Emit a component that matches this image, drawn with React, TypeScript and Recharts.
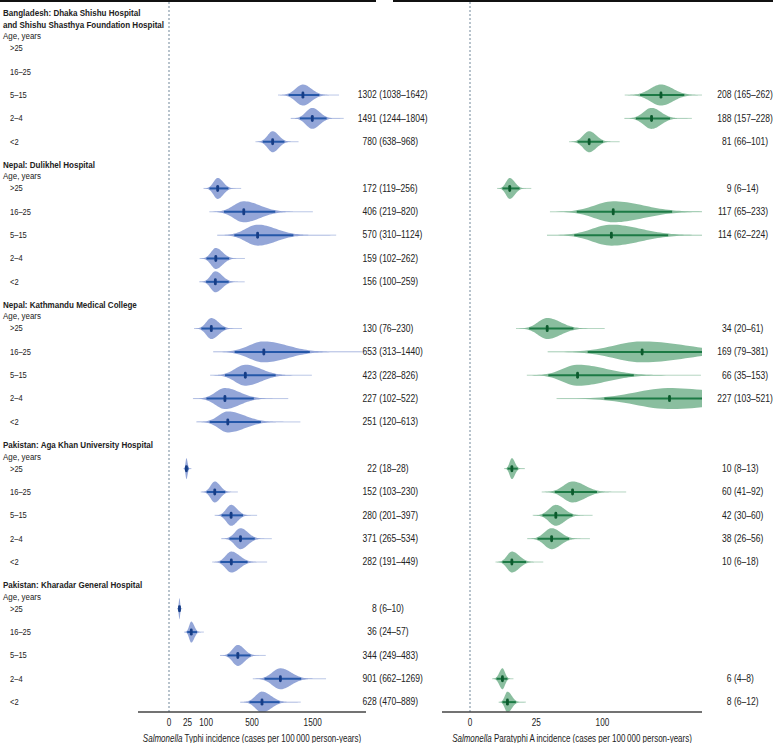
import React from 'react';
import { ComposedChart, Bar, XAxis, YAxis, ReferenceLine } from 'recharts';

// ---------- data ----------
const siteNames: string[][] = [
  ['Bangladesh: Dhaka Shishu Hospital', 'and Shishu Shasthya Foundation Hospital'],
  ['Nepal: Dulikhel Hospital'],
  ['Nepal: Kathmandu Medical College'],
  ['Pakistan: Aga Khan University Hospital'],
  ['Pakistan: Kharadar General Hospital'],
];
const ageGroups = ['>25', '16–25', '5–15', '2–4', '<2'];

const typhiMedian = [null, null, 1302, 1491, 780, 172, 406, 570, 159, 156, 130, 653, 423, 227, 251, 22, 152, 280, 371, 282, 8, 36, 344, 901, 628];
const typhiLower = [null, null, 1038, 1244, 638, 119, 219, 310, 102, 100, 76, 313, 228, 102, 120, 18, 103, 201, 265, 191, 6, 24, 249, 662, 470];
const typhiUpper = [null, null, 1642, 1804, 968, 256, 820, 1124, 262, 259, 230, 1440, 826, 522, 613, 28, 230, 397, 534, 449, 10, 57, 483, 1269, 889];

const paraMedian = [null, null, 208, 188, 81, 9, 117, 114, null, null, 34, 169, 66, 227, null, 10, 60, 42, 38, 10, null, null, null, 6, 8];
const paraLower = [null, null, 165, 157, 66, 6, 65, 62, null, null, 20, 79, 35, 103, null, 8, 41, 30, 26, 6, null, null, null, 4, 6];
const paraUpper = [null, null, 262, 228, 101, 14, 233, 224, null, null, 61, 381, 153, 521, null, 13, 92, 60, 56, 18, null, null, null, 8, 12];

const typhiTicks = [0, 25, 100, 500, 1500];
const paraTicks = [0, 25, 100];

// ---------- helpers ----------
const FONT = "'Liberation Sans', Arial, sans-serif";
const SX = 0.82; // horizontal condensing of the text face
const Y_DOMAIN: [number, number] = [-2.056, 28.437];
const key = (v: number) => v.toFixed(3);

type Row = { pos: number; median: number; lo: number; hi: number };

function buildRows(med: (number | null)[], lo: (number | null)[], hi: (number | null)[]): Row[] {
  const rows: Row[] = [];
  med.forEach((m, i) => {
    if (m == null) return;
    const site = Math.floor(i / 5);
    const age = i % 5;
    rows.push({ pos: site * 6 + age, median: m, lo: lo[i] as number, hi: hi[i] as number });
  });
  return rows;
}

const typhiRows = buildRows(typhiMedian, typhiLower, typhiUpper);
const paraRows = buildRows(paraMedian, paraLower, paraUpper);

type LeftLabel = { text: string; kind: 'header' | 'age' | 'group' };
const leftLabels = new Map<string, LeftLabel>();
const leftTickVals: number[] = [];
siteNames.forEach((lines, s) => {
  const base = s * 6;
  lines.forEach((ln, j) => {
    const p = base - 1.0 - 0.5 * (lines.length - 1 - j);
    leftTickVals.push(p);
    leftLabels.set(key(p), { text: ln, kind: 'header' });
  });
  const ap = base - 0.52;
  leftTickVals.push(ap);
  leftLabels.set(key(ap), { text: 'Age, years', kind: 'age' });
  ageGroups.forEach((g, a) => {
    leftTickVals.push(base + a);
    leftLabels.set(key(base + a), { text: g, kind: 'group' });
  });
});

const T = ({ x, y, size = 10, weight = 400, anchor = 'start', dy = '0.35em', sx = SX, children }: any) => (
  <text
    transform={`translate(${x},${y}) scale(${sx},1)`}
    x={0}
    y={0}
    dy={dy}
    textAnchor={anchor}
    fontFamily={FONT}
    fontSize={size}
    fontWeight={weight}
    fill="#222"
  >
    {children}
  </text>
);

const LeftTick = (props: any) => {
  const { y, payload } = props;
  const lab = leftLabels.get(key(payload.value));
  if (!lab) return null;
  if (lab.kind === 'header') return <T x={3} y={y} size={9.8} weight={700}>{lab.text}</T>;
  if (lab.kind === 'age') return <T x={3} y={y} size={9.7}>{lab.text}</T>;
  return <T x={10} y={y} size={9.2}>{lab.text}</T>;
};

const makeValueTick = (rows: Row[], medX: number) => (props: any) => {
  const { y, payload } = props;
  const r = rows.find((d) => key(d.pos) === key(payload.value));
  if (!r) return null;
  return (
    <g>
      <T x={medX} y={y} anchor="end" size={10.4}>{String(r.median)}</T>
      <T x={medX + 2.5} y={y} size={10.4}>{`(${r.lo}–${r.hi})`}</T>
    </g>
  );
};

const XTick = (props: any) => {
  const { x, y, payload } = props;
  return <T x={x} y={y} anchor="middle" dy="0.71em">{String(payload.value)}</T>;
};

const makeViolin = (fill: string, line: string, marker: string) => (props: any) => {
  const { x, y, width, height, payload } = props;
  if (!payload || width == null || !isFinite(width)) return null;
  const cy = y + height / 2;
  const a = Math.sqrt(payload.lo);
  const b = Math.sqrt(payload.hi);
  const m = Math.sqrt(payload.median);
  const k = width / (b - a);
  const px = (t: number) => x + (t - a) * k;
  const sL = (m - a) / 1.96;
  const sR = (b - m) / 1.96;
  const t0 = Math.max(0, m - 3.4 * sL);
  const t1 = m + 4.3 * sR;
  const H = 10.5;
  const N = 70;
  const top: string[] = [];
  const bot: string[] = [];
  for (let i = 0; i <= N; i++) {
    const t = t0 + ((t1 - t0) * i) / N;
    const s = t < m ? sL : sR;
    const z = (t - m) / s;
    const h = H * Math.exp(-0.5 * z * z);
    top.push(`${px(t).toFixed(2)},${(cy - h).toFixed(2)}`);
    bot.unshift(`${px(t).toFixed(2)},${(cy + h).toFixed(2)}`);
  }
  const mx = px(m);
  return (
    <g>
      <line x1={px(t0)} x2={px(t1)} y1={cy} y2={cy} stroke={fill} strokeOpacity={0.6} strokeWidth={1} />
      <polygon points={[...top, ...bot].join(' ')} fill={fill} fillOpacity={0.95} stroke="none" />
      <line x1={x} x2={x + width} y1={cy} y2={cy} stroke={line} strokeWidth={2} />
      <rect x={mx - 1.4} y={cy - 3.5} width={2.8} height={7} rx={1.4} fill={marker} />
    </g>
  );
};

const blueViolin = makeViolin('#8ea1d6', '#2457a9', '#163d86');
const greenViolin = makeViolin('#84ba9a', '#1c7a45', '#0c5a2d');

const AxisTitle = ({ viewBox, name }: any) => {
  if (!viewBox) return null;
  return (
    <T x={viewBox.x + viewBox.width / 2} y={viewBox.y + 26} anchor="middle" size={10} sx={0.8}>
      <tspan fontStyle="italic">Salmonella</tspan> {name} incidence (cases per 100&#8201;000 person-years)
    </T>
  );
};

export default function App() {
  return (
    <div style={{ position: 'absolute', left: 0, top: 0, width: 773, height: 743, background: '#fff' }}>
      <div style={{ position: 'absolute', left: 0, top: 0, width: 440, height: 743 }}>
        <ComposedChart
          width={440}
          height={743}
          layout="vertical"
          data={typhiRows}
          margin={{ top: 0, right: 0, bottom: 0, left: 0 }}
        >
          <XAxis
            type="number"
            scale="sqrt"
            domain={[0, 2818]}
            allowDataOverflow
            ticks={typhiTicks}
            interval={0}
            padding={{ left: 31, right: 0 }}
            height={31}
            tickLine={false}
            tickSize={5}
            tickMargin={2}
            axisLine={{ stroke: '#444', strokeWidth: 1.5 }}
            tick={<XTick />}
            label={{ content: (p: any) => <AxisTitle viewBox={p.viewBox} name="Typhi" /> }}
          />
          <YAxis
            yAxisId="l"
            type="number"
            dataKey="pos"
            domain={Y_DOMAIN}
            allowDataOverflow
            ticks={leftTickVals}
            interval={0}
            width={138}
            axisLine={false}
            tickLine={false}
            tick={<LeftTick />}
          />
          <YAxis
            yAxisId="r"
            orientation="right"
            type="number"
            dataKey="pos"
            domain={Y_DOMAIN}
            allowDataOverflow
            ticks={typhiRows.map((r) => r.pos)}
            interval={0}
            width={74}
            axisLine={false}
            tickLine={false}
            tick={makeValueTick(typhiRows, 376.8)}
          />
          <ReferenceLine x={0} yAxisId="l" stroke="#71879a" strokeDasharray="2 2" strokeWidth={1} />
          <Bar
            yAxisId="l"
            dataKey={(d: Row) => [d.lo, d.hi]}
            barSize={20}
            shape={blueViolin}
            isAnimationActive={false}
          />
        </ComposedChart>
      </div>
      <div style={{ position: 'absolute', left: 380, top: 0, width: 393, height: 743 }}>
        <ComposedChart
          width={393}
          height={743}
          layout="vertical"
          data={paraRows}
          margin={{ top: 0, right: 0, bottom: 0, left: 0 }}
        >
          <XAxis
            type="number"
            scale="sqrt"
            domain={[0, 307]}
            allowDataOverflow
            ticks={paraTicks}
            interval={0}
            padding={{ left: 28, right: 0 }}
            height={31}
            tickLine={false}
            tickSize={5}
            tickMargin={2}
            axisLine={{ stroke: '#444', strokeWidth: 1.5 }}
            tick={<XTick />}
            label={{ content: (p: any) => <AxisTitle viewBox={p.viewBox} name="Paratyphi A" /> }}
          />
          <YAxis
            yAxisId="l"
            type="number"
            dataKey="pos"
            domain={Y_DOMAIN}
            allowDataOverflow
            ticks={paraRows.map((r) => r.pos)}
            width={62}
            axisLine={false}
            tickLine={false}
            tick={false}
          />
          <YAxis
            yAxisId="r"
            orientation="right"
            type="number"
            dataKey="pos"
            domain={Y_DOMAIN}
            allowDataOverflow
            ticks={paraRows.map((r) => r.pos)}
            interval={0}
            width={71}
            axisLine={false}
            tickLine={false}
            tick={makeValueTick(paraRows, 351.5)}
          />
          <ReferenceLine x={0} yAxisId="l" stroke="#71879a" strokeDasharray="2 2" strokeWidth={1} />
          <Bar
            yAxisId="l"
            dataKey={(d: Row) => [d.lo, d.hi]}
            barSize={20}
            shape={greenViolin}
            isAnimationActive={false}
          />
        </ComposedChart>
      </div>
      <div style={{ position: 'absolute', left: 0, top: 0, width: 376, height: 2, background: '#111' }} />
      <div style={{ position: 'absolute', left: 393, top: 0, width: 380, height: 2, background: '#111' }} />
    </div>
  );
}
